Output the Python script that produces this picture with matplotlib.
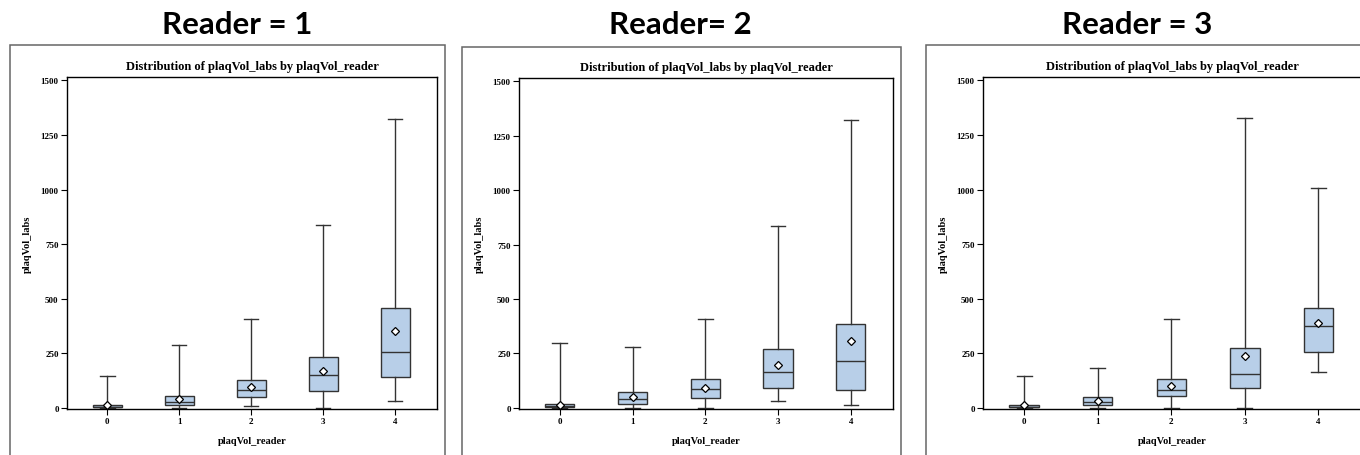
import matplotlib
matplotlib.use("Agg")
import matplotlib.pyplot as plt
from matplotlib.patches import Rectangle

# categories on the x axis
readers = [0, 1, 2, 3, 4]
panel_titles = ["Reader = 1", "Reader= 2", "Reader = 3"]

# box statistics per panel
r1_low = [0, 0, 6, 0, 31]
r1_q1 = [1, 12, 49, 75, 142]
r1_med = [4, 27, 79, 148, 257]
r1_q3 = [12, 52, 125, 231, 458]
r1_high = [144, 289, 406, 837, 1323]
r1_mean = [12, 38, 96, 170, 350]

r2_low = [0, 0, 0, 29, 11]
r2_q1 = [1, 15, 43, 89, 81]
r2_med = [6, 38, 84, 166, 216]
r2_q3 = [17, 74, 132, 270, 387]
r2_high = [299, 278, 410, 837, 1325]
r2_mean = [14, 49, 90, 198, 307]

r3_low = [0, 0, 0, 0, 164]
r3_q1 = [1, 12, 52, 91, 256]
r3_med = [3, 25, 83, 154, 375]
r3_q3 = [11, 48, 132, 273, 459]
r3_high = [144, 184, 408, 1327, 1007]
r3_mean = [11, 32, 98, 236, 390]

yticks = [0, 250, 500, 750, 1000, 1250, 1500]

panels = [
    (r1_low, r1_q1, r1_med, r1_q3, r1_high, r1_mean),
    (r2_low, r2_q1, r2_med, r2_q3, r2_high, r2_mean),
    (r3_low, r3_q1, r3_med, r3_q3, r3_high, r3_mean),
]

W, H = 1360, 456
fig = plt.figure(figsize=(W / 100, H / 100), dpi=100)

# pixel layout: outer frame (left, top, right), inner axes (left, top, right, bottom)
outer = [(10, 46, 445), (462, 48, 901), (926, 46, 1372)]
inner = [(67, 78, 437, 410), (519, 79, 893, 410), (983, 78, 1361, 410)]
title_x = [237, 680, 1137]

serif = "Liberation Serif"
boxfill = "#b8cfe8"
edge = "#333333"

for i, (low, q1, med, q3, high, mean) in enumerate(panels):
    ol, ot, orr = outer[i]
    fig.add_artist(Rectangle((ol / W, -0.1), (orr - ol) / W, 1.1 - ot / H,
                             transform=fig.transFigure, fill=False,
                             edgecolor="#666666", linewidth=1.1))
    fig.text(title_x[i] / W, 1 - 25 / H, panel_titles[i], ha="center", va="center",
             family="Lato", fontweight="bold", fontsize=22.5)

    il, it, ir, ib = inner[i]
    ax = fig.add_axes([il / W, 1 - ib / H, (ir - il) / W, (ib - it) / H])

    stats = []
    for k in range(len(readers)):
        stats.append(dict(whislo=low[k], q1=q1[k], med=med[k], q3=q3[k],
                          whishi=high[k], mean=mean[k], fliers=[]))
    ax.bxp(stats, positions=readers, widths=0.4, showmeans=True, patch_artist=True,
           boxprops=dict(facecolor=boxfill, edgecolor=edge, linewidth=1.0),
           medianprops=dict(color=edge, linewidth=1.0),
           whiskerprops=dict(color=edge, linewidth=1.0),
           capprops=dict(color=edge, linewidth=1.0),
           capwidths=0.2,
           meanprops=dict(marker="D", markerfacecolor="white", markeredgecolor="black",
                          markersize=4.5, markeredgewidth=0.9))

    ax.set_xlim(-0.56, 4.58)
    ax.set_ylim(-6, 1516)
    ax.set_xticks(readers)
    ax.set_xticklabels([str(r) for r in readers])
    ax.set_yticks(yticks)
    ax.set_yticklabels([str(t) for t in yticks])
    ax.tick_params(direction="out", length=4, width=0.8, labelsize=6.5, pad=2)
    for lab in ax.get_xticklabels() + ax.get_yticklabels():
        lab.set_family(serif)
        lab.set_fontweight("bold")
    for s in ax.spines.values():
        s.set_linewidth(1.0)
        s.set_color("black")
    ax.set_title("Distribution of plaqVol_labs by plaqVol_reader", family=serif,
                 fontweight="bold", fontsize=9, pad=6)
    ax.set_xlabel("plaqVol_reader", family=serif, fontweight="bold", fontsize=7.5, labelpad=8)
    ax.set_ylabel("plaqVol_labs", family=serif, fontweight="bold", fontsize=7.5, labelpad=6)

fig.savefig("out.png", dpi=100)
